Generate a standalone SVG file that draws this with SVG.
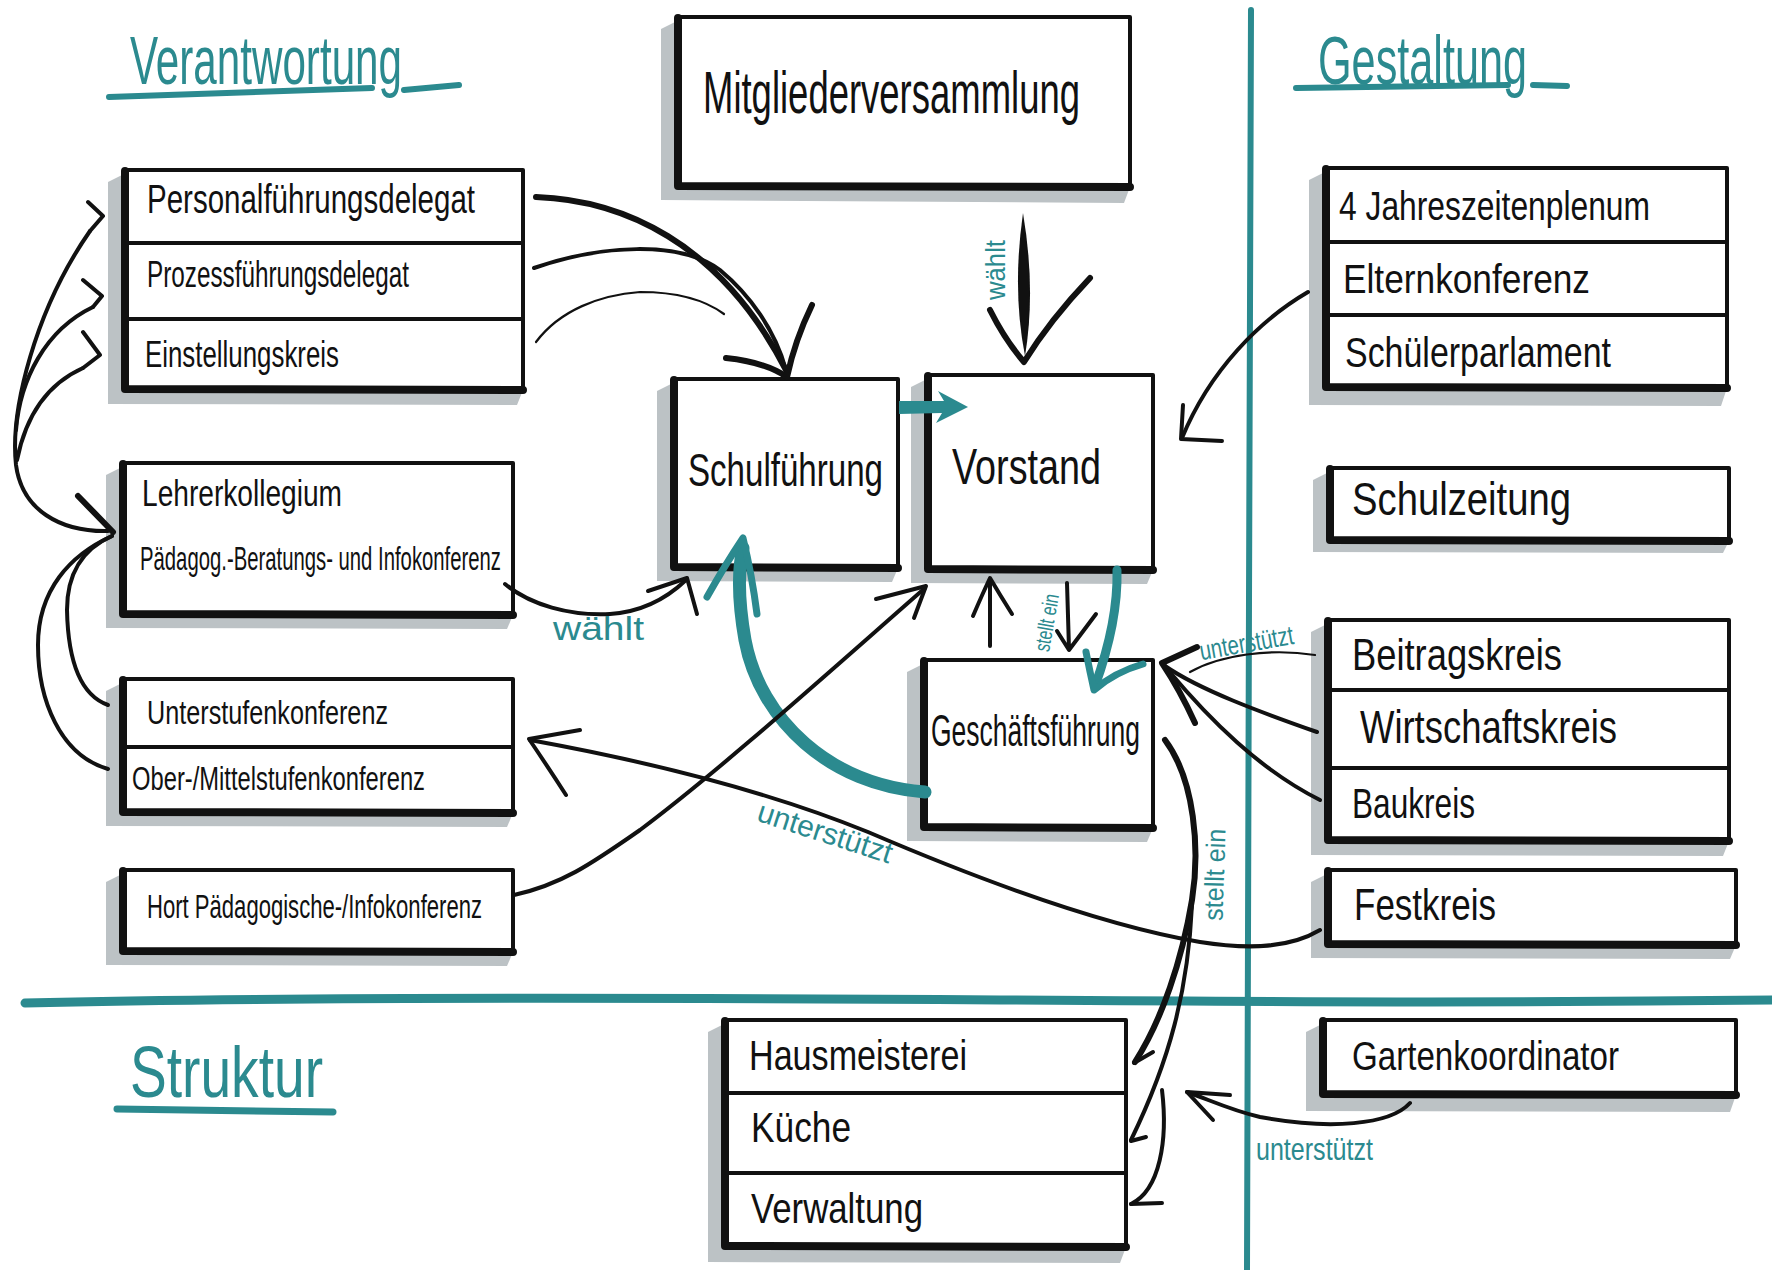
<svg xmlns="http://www.w3.org/2000/svg" width="1772" height="1270" viewBox="0 0 1772 1270">
<style>
.bg{fill:#ffffff}
.sh{fill:#bcc2c5}
.bx{fill:#ffffff;stroke:#111111;stroke-width:4;stroke-linejoin:round}
.hv{fill:none;stroke:#111111;stroke-width:8;stroke-linecap:round;stroke-linejoin:round}
.t{font-family:"Liberation Sans Narrow","Liberation Sans",Arial,sans-serif;fill:#111111}
.tt{font-family:"Liberation Sans Narrow","Liberation Sans",Arial,sans-serif;fill:#2b8a8f}
.ln{fill:none;stroke:#111111;stroke-width:4;stroke-linecap:round;stroke-linejoin:round}
.lk{fill:none;stroke:#111111;stroke-width:6;stroke-linecap:round;stroke-linejoin:round}
.lt{fill:none;stroke:#111111;stroke-width:2.2;stroke-linecap:round}
.tl{fill:none;stroke:#2b8a8f;stroke-linecap:round;stroke-linejoin:round}
</style>
<rect class="bg" x="0" y="0" width="1772" height="1270"/>

<!-- section lines and titles -->
<g id="sections">
<path class="tl" stroke-width="6" d="M 1251 10 L 1249 600 L 1247 1270"/>
<path class="tl" stroke-width="9" d="M 25 1003 C 300 996, 700 998, 1000 1000 S 1500 1003, 1772 1000"/>
<text class="tt" x="130" y="84" font-size="68" textLength="272" lengthAdjust="spacingAndGlyphs">Verantwortung</text>
<path class="tl" stroke-width="6" d="M 109 97 L 372 88 M 404 90 L 459 85"/>
<text class="tt" x="1318" y="84" font-size="68" textLength="209" lengthAdjust="spacingAndGlyphs">Gestaltung</text>
<path class="tl" stroke-width="6" d="M 1296 88 L 1508 85 M 1533 85 L 1567 86"/>
<text class="tt" x="130" y="1097" font-size="72" textLength="193" lengthAdjust="spacingAndGlyphs">Struktur</text>
<path class="tl" stroke-width="7" d="M 117 1109 L 333 1112"/>
</g>

<!-- nodes -->
<g id="mitgliederversammlung">
<polygon class="sh" points="677,21 661,29 661,200 1124,203 1130,187"/>
<rect class="bx" x="677" y="17" width="453" height="170"/>
<path class="hv" d="M 678 18 L 678 186 L 1130 187"/>
<text class="t" x="703" y="113" font-size="60" textLength="377" lengthAdjust="spacingAndGlyphs">Mitgliederversammlung</text>
</g>

<g id="delegate-box">
<polygon class="sh" points="124,174 108,182 108,404 517,405 523,390"/>
<g id="personalfuehrungsdelegat">
<rect class="bx" x="124" y="170" width="399" height="73"/>
<text class="t" x="147" y="213" font-size="40" textLength="328" lengthAdjust="spacingAndGlyphs">Personalführungsdelegat</text>
</g>
<g id="prozessfuehrungsdelegat">
<rect class="bx" x="124" y="243" width="399" height="76"/>
<text class="t" x="147" y="287" font-size="36" textLength="262" lengthAdjust="spacingAndGlyphs">Prozessführungsdelegat</text>
</g>
<g id="einstellungskreis">
<rect class="bx" x="124" y="319" width="399" height="71"/>
<text class="t" x="145" y="367" font-size="36" textLength="194" lengthAdjust="spacingAndGlyphs">Einstellungskreis</text>
</g>
<path class="hv" d="M 125 171 L 125 389 L 523 390"/>
</g>

<g id="lehrerkollegium">
<polygon class="sh" points="122,467 106,475 106,628 507,629 513,615"/>
<rect class="bx" x="122" y="463" width="391" height="152"/>
<path class="hv" d="M 123 464 L 123 614 L 513 615"/>
<text class="t" x="142" y="506" font-size="36" textLength="200" lengthAdjust="spacingAndGlyphs">Lehrerkollegium</text>
<text class="t" x="140" y="570" font-size="34" textLength="361" lengthAdjust="spacingAndGlyphs">Pädagog.-Beratungs- und Infokonferenz</text>
</g>

<g id="stufenkonferenzen">
<polygon class="sh" points="122,683 106,691 106,826 507,827 513,813"/>
<g id="unterstufenkonferenz">
<rect class="bx" x="122" y="679" width="391" height="68"/>
<text class="t" x="147" y="724" font-size="34" textLength="241" lengthAdjust="spacingAndGlyphs">Unterstufenkonferenz</text>
</g>
<g id="oberstufenkonferenz">
<rect class="bx" x="122" y="747" width="391" height="66"/>
<text class="t" x="132" y="790" font-size="34" textLength="293" lengthAdjust="spacingAndGlyphs">Ober-/Mittelstufenkonferenz</text>
</g>
<path class="hv" d="M 123 680 L 123 812 L 513 813"/>
</g>

<g id="hort">
<polygon class="sh" points="122,874 106,882 106,965 507,966 513,952"/>
<rect class="bx" x="122" y="870" width="391" height="82"/>
<path class="hv" d="M 123 871 L 123 951 L 513 952"/>
<text class="t" x="147" y="918" font-size="34" textLength="335" lengthAdjust="spacingAndGlyphs">Hort Pädagogische-/Infokonferenz</text>
</g>

<g id="schulfuehrung">
<polygon class="sh" points="673,383 657,391 657,581 892,582 898,568"/>
<rect class="bx" x="673" y="379" width="225" height="189"/>
<path class="hv" d="M 674 380 L 674 567 L 898 568"/>
<text class="t" x="688" y="486" font-size="46" textLength="195" lengthAdjust="spacingAndGlyphs">Schulführung</text>
</g>

<g id="vorstand">
<polygon class="sh" points="927,379 911,387 911,583 1147,584 1153,570"/>
<rect class="bx" x="927" y="375" width="226" height="195"/>
<path class="hv" d="M 928 376 L 928 569 L 1153 570"/>
<text class="t" x="952" y="484" font-size="50" textLength="149" lengthAdjust="spacingAndGlyphs">Vorstand</text>
</g>

<g id="geschaeftsfuehrung">
<polygon class="sh" points="923,664 907,672 907,841 1147,842 1153,828"/>
<rect class="bx" x="923" y="660" width="230" height="168"/>
<path class="hv" d="M 924 661 L 924 827 L 1153 828"/>
<text class="t" x="931" y="746" font-size="44" textLength="209" lengthAdjust="spacingAndGlyphs">Geschäftsführung</text>
</g>

<g id="struktur-box">
<polygon class="sh" points="724,1024 708,1032 708,1262 1120,1263 1126,1247"/>
<g id="hausmeisterei">
<rect class="bx" x="724" y="1020" width="402" height="73"/>
<text class="t" x="749" y="1070" font-size="42" textLength="218" lengthAdjust="spacingAndGlyphs">Hausmeisterei</text>
</g>
<g id="kueche">
<rect class="bx" x="724" y="1093" width="402" height="80"/>
<text class="t" x="751" y="1142" font-size="42" textLength="100" lengthAdjust="spacingAndGlyphs">Küche</text>
</g>
<g id="verwaltung">
<rect class="bx" x="724" y="1173" width="402" height="74"/>
<text class="t" x="751" y="1223" font-size="42" textLength="172" lengthAdjust="spacingAndGlyphs">Verwaltung</text>
</g>
<path class="hv" d="M 725 1021 L 725 1246 L 1126 1247"/>
</g>

<g id="gremien-box">
<polygon class="sh" points="1325,172 1309,180 1309,405 1721,406 1727,388"/>
<g id="jahreszeitenplenum">
<rect class="bx" x="1325" y="168" width="402" height="74"/>
<text class="t" x="1339" y="220" font-size="40" textLength="311" lengthAdjust="spacingAndGlyphs">4 Jahreszeitenplenum</text>
</g>
<g id="elternkonferenz">
<rect class="bx" x="1325" y="242" width="402" height="73"/>
<text class="t" x="1343" y="293" font-size="40" textLength="247" lengthAdjust="spacingAndGlyphs">Elternkonferenz</text>
</g>
<g id="schuelerparlament">
<rect class="bx" x="1325" y="315" width="402" height="73"/>
<text class="t" x="1345" y="367" font-size="42" textLength="266" lengthAdjust="spacingAndGlyphs">Schülerparlament</text>
</g>
<path class="hv" d="M 1326 169 L 1326 387 L 1727 388"/>
</g>

<g id="schulzeitung">
<polygon class="sh" points="1329,472 1313,480 1313,552 1723,553 1729,541"/>
<rect class="bx" x="1329" y="468" width="400" height="73"/>
<path class="hv" d="M 1330 469 L 1330 540 L 1729 541"/>
<text class="t" x="1352" y="515" font-size="46" textLength="219" lengthAdjust="spacingAndGlyphs">Schulzeitung</text>
</g>

<g id="kreise-box">
<polygon class="sh" points="1327,624 1311,632 1311,855 1723,856 1729,841"/>
<g id="beitragskreis">
<rect class="bx" x="1327" y="620" width="402" height="70"/>
<text class="t" x="1352" y="670" font-size="44" textLength="210" lengthAdjust="spacingAndGlyphs">Beitragskreis</text>
</g>
<g id="wirtschaftskreis">
<rect class="bx" x="1327" y="690" width="402" height="78"/>
<text class="t" x="1360" y="743" font-size="46" textLength="257" lengthAdjust="spacingAndGlyphs">Wirtschaftskreis</text>
</g>
<g id="baukreis">
<rect class="bx" x="1327" y="768" width="402" height="73"/>
<text class="t" x="1352" y="818" font-size="42" textLength="123" lengthAdjust="spacingAndGlyphs">Baukreis</text>
</g>
<path class="hv" d="M 1328 621 L 1328 840 L 1729 841"/>
</g>

<g id="festkreis">
<polygon class="sh" points="1327,874 1311,882 1311,958 1730,959 1736,945"/>
<rect class="bx" x="1327" y="870" width="409" height="75"/>
<path class="hv" d="M 1328 871 L 1328 944 L 1736 945"/>
<text class="t" x="1354" y="920" font-size="44" textLength="142" lengthAdjust="spacingAndGlyphs">Festkreis</text>
</g>

<g id="gartenkoordinator">
<polygon class="sh" points="1322,1024 1306,1032 1306,1111 1730,1112 1736,1095"/>
<rect class="bx" x="1322" y="1020" width="414" height="75"/>
<path class="hv" d="M 1323 1021 L 1323 1094 L 1736 1095"/>
<text class="t" x="1352" y="1070" font-size="40" textLength="267" lengthAdjust="spacingAndGlyphs">Gartenkoordinator</text>
</g>

<!-- connectors -->
<g id="connectors">
<!-- Lehrerkollegium to delegate rows -->
<path class="ln" d="M 108 531 C 60 532, 22 510, 16 465 C 10 410, 35 310, 90 231"/>
<path class="ln" d="M 16 430 C 20 380, 45 330, 93 307"/>
<path class="ln" d="M 17 460 C 25 420, 45 385, 83 368"/>
<path class="ln" d="M 88 202 L 103 216 L 90 231 M 83 280 L 102 296 L 93 307 M 83 332 L 100 355 L 83 368"/>
<!-- Stufenkonferenzen to Lehrerkollegium -->
<path class="ln" d="M 108 705 C 80 695, 68 660, 67 610 C 67 570, 85 548, 112 536"/>
<path class="ln" d="M 108 769 C 60 755, 38 700, 38 645 C 38 590, 70 555, 112 536"/>
<path class="lk" stroke-width="9" d="M 78 496 L 113 532"/>
<!-- delegate rows to Schulfuehrung -->
<path class="lk" stroke-width="5" d="M 536 197 C 620 200, 720 240, 787 372"/>
<path class="ln" d="M 534 268 C 600 245, 680 240, 720 270 C 750 295, 775 330, 786 370"/>
<path class="lt" d="M 536 342 C 560 310, 600 295, 640 292 C 680 292, 705 300, 724 314"/>
<path class="lk" d="M 726 358 Q 765 362 787 377 Q 795 340 812 305"/>
<!-- Mitgliederversammlung waehlt Vorstand -->
<path fill="#111111" d="M 1023 213 Q 1036 290 1025 356 Q 1012 290 1023 213 Z"/>
<path class="lk" stroke-width="7" d="M 990 310 Q 1005 340 1024 362 Q 1050 320 1090 278"/>
<text class="tt" transform="translate(1005,270) rotate(-90)" text-anchor="middle" font-size="28" textLength="60" lengthAdjust="spacingAndGlyphs">wählt</text>
<!-- Schulfuehrung to Vorstand -->
<path fill="#2b8a8f" d="M 899 401 L 944 401 L 938 391 L 968 407 L 936 423 L 942 413 L 899 414 Z"/>
<!-- Geschaeftsfuehrung to Schulfuehrung -->
<path class="tl" stroke-width="13" d="M 925 792 C 830 785, 760 720, 745 640 C 738 600, 738 570, 743 548"/>
<path class="tl" stroke-width="7" d="M 707 597 Q 725 565 743 538 Q 752 575 757 614"/>
<!-- Lehrerkollegium waehlt Schulfuehrung -->
<path class="ln" d="M 505 584 C 530 605, 570 616, 610 614 C 640 612, 665 600, 686 580"/>
<path class="ln" d="M 648 591 L 687 578 L 697 614"/>
<text class="tt" x="553" y="640" font-size="34" textLength="91" lengthAdjust="spacingAndGlyphs">wählt</text>
<!-- Hort to Vorstand -->
<path class="ln" d="M 514 895 C 560 885, 590 865, 640 830 C 720 770, 820 680, 925 588"/>
<path class="ln" d="M 876 599 L 926 586 L 914 618"/>
<!-- Festkreis unterstuetzt Unterstufenkonferenz -->
<path class="ln" stroke-width="3" d="M 1320 930 C 1290 948, 1250 950, 1200 942 C 1100 925, 980 880, 868 832 C 760 788, 640 760, 530 740"/>
<path class="ln" d="M 580 730 L 529 739 Q 550 770 566 795"/>
<text class="tt" transform="translate(822,842) rotate(18)" text-anchor="middle" font-size="30" textLength="140" lengthAdjust="spacingAndGlyphs">unterstützt</text>
<!-- Vorstand / Geschaeftsfuehrung -->
<path class="ln" stroke-width="3" d="M 990 646 L 990 580 M 973 616 Q 982 595 990 578 Q 1000 595 1012 614"/>
<path class="ln" stroke-width="3" d="M 1067 583 L 1069 649 M 1057 631 L 1069 650 L 1096 614"/>
<text class="tt" transform="translate(1054,624) rotate(-80)" text-anchor="middle" font-size="22" textLength="58" lengthAdjust="spacingAndGlyphs">stellt ein</text>
<path class="tl" stroke-width="9" d="M 1117 570 C 1118 610, 1108 650, 1095 686"/>
<path class="tl" stroke-width="7" d="M 1086 652 Q 1090 672 1094 690 Q 1115 672 1143 664"/>
<!-- Elternkonferenz to Vorstand -->
<path class="ln" stroke-width="3" d="M 1308 292 C 1260 320, 1210 370, 1182 438"/>
<path class="ln" d="M 1183 405 L 1181 439 L 1222 441"/>
<!-- Kreise unterstuetzen Geschaeftsfuehrung -->
<path class="lt" d="M 1315 655 C 1270 648, 1220 655, 1190 672"/>
<path class="ln" stroke-width="3" d="M 1317 732 C 1260 712, 1200 690, 1165 666"/>
<path class="ln" d="M 1320 800 C 1260 770, 1210 720, 1168 670"/>
<path class="lk" stroke-width="5" d="M 1197 647 L 1162 663 Q 1180 690 1195 723"/>
<text class="tt" transform="translate(1248,652) rotate(-10)" text-anchor="middle" font-size="27" textLength="95" lengthAdjust="spacingAndGlyphs">unterstützt</text>
<!-- Geschaeftsfuehrung stellt ein Struktur -->
<path class="lk" d="M 1165 740 C 1195 780, 1200 850, 1192 900 C 1182 960, 1162 1020, 1135 1062"/>
<path class="ln" d="M 1192 905 C 1188 990, 1170 1060, 1131 1140"/>
<path class="ln" d="M 1162 1090 C 1168 1140, 1160 1190, 1131 1204"/>
<path class="ln" stroke-width="3" d="M 1153 1052 L 1134 1063 M 1146 1137 L 1131 1141 M 1162 1203 L 1131 1204"/>
<text class="tt" transform="translate(1224,875) rotate(-88)" text-anchor="middle" font-size="27" textLength="92" lengthAdjust="spacingAndGlyphs">stellt ein</text>
<!-- Gartenkoordinator unterstuetzt -->
<path class="ln" stroke-width="5" d="M 1410 1103 C 1390 1125, 1330 1130, 1260 1117 C 1230 1110, 1210 1100, 1187 1092"/>
<path class="ln" d="M 1230 1095 L 1187 1092 L 1213 1120"/>
<text class="tt" x="1256" y="1160" font-size="32" textLength="117" lengthAdjust="spacingAndGlyphs">unterstützt</text>
</g>
</svg>
